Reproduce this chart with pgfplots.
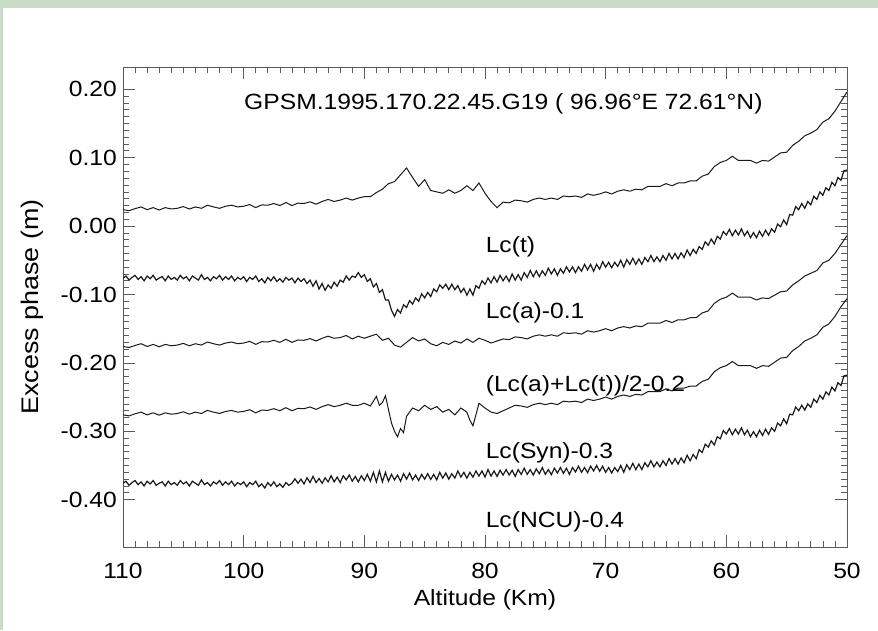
\documentclass[border=0pt]{standalone}
\usepackage{pgfplots}
\pgfplotsset{compat=1.18}
\usepackage{fontspec}
\setmainfont{Liberation Sans}[FakeStretch=1.12]
\definecolor{frame}{RGB}{200,220,200}
\definecolor{axgray}{RGB}{90,90,90}
\newcommand{\F}{\fontsize{22}{26}\selectfont}
\begin{document}
\F
\begin{tikzpicture}
\begin{axis}[
  width=724pt, height=480pt, scale only axis,
  x dir=reverse, xmin=50, xmax=110, ymin=-0.4692, ymax=0.2326,
  xtick={50,60,70,80,90,100,110},
  xticklabels={50,60,70,80,90,100,110},
  ytick={-0.4,-0.3,-0.2,-0.1,0,0.1,0.2},
  yticklabels={-0.40,-0.30,-0.20,-0.10,0.00,0.10,0.20},
  minor x tick num=9, minor y tick num=9,
  xtick pos=both, ytick pos=both, xticklabel pos=lower, yticklabel pos=left,
  tick align=inside, major tick length=12pt, minor tick length=6pt,
  axis line style={axgray, line width=0.8pt},
  every tick/.style={axgray, line width=0.7pt},
  tick label style={font=\F},
  xticklabel style={anchor=base, yshift=-31pt},
  yticklabel style={anchor=east, inner sep=0pt, xshift=-6pt},
  xlabel={Altitude (Km)}, ylabel={Excess phase (m)},
  every axis x label/.style={at={(axis description cs:0.5,-0.11)}, anchor=center, font=\F},
  every axis y label/.style={at={(axis description cs:-0.125,0.5)}, anchor=center, rotate=90, font=\fontsize{24}{28}\selectfont},
  clip=true,
]
\coordinate (sw) at (rel axis cs:0,0);
% Lc(t)
\addplot[black!90, line width=1pt] table[row sep=\\] {x y\\
110 0.0240\\ 109.5 0.0225\\ 109 0.0255\\ 108.5 0.028\\ 108 0.024\\ 107.5 0.027\\ 107 0.0235\\ 106.5 0.027\\ 106 0.025\\ 105.5 0.026\\
105 0.0285\\ 104.5 0.025\\ 104 0.028\\ 103.5 0.026\\ 103 0.0305\\ 102.5 0.028\\ 102 0.026\\ 101.5 0.029\\ 101 0.0305\\ 100.5 0.028\\
100 0.029\\ 99.5 0.0315\\ 99 0.027\\ 98.5 0.031\\ 98 0.0305\\ 97.5 0.033\\ 97 0.030\\ 96.5 0.0345\\ 96 0.030\\ 95.5 0.0335\\
95 0.033\\ 94.5 0.0355\\ 94 0.032\\ 93.5 0.036\\ 93 0.039\\ 92.5 0.036\\ 92 0.038\\ 91.5 0.041\\ 91 0.038\\ 90.5 0.041\\
90 0.043\\ 89.5 0.043\\ 89 0.049\\ 88.5 0.054\\ 88 0.062\\ 87.5 0.065\\ 87 0.075\\ 86.5 0.085\\ 86 0.071\\ 85.5 0.058\\
85 0.068\\ 84.5 0.052\\ 84 0.050\\ 83.5 0.048\\ 83 0.053\\ 82.5 0.048\\ 82 0.052\\ 81.5 0.059\\ 81 0.052\\ 80.5 0.063\\
80 0.048\\ 79.5 0.036\\ 79 0.027\\ 78.5 0.035\\ 78 0.034\\ 77.5 0.038\\ 77 0.037\\ 76.5 0.035\\ 76 0.039\\ 75.5 0.041\\
75 0.039\\ 74.5 0.041\\ 74 0.039\\ 73.5 0.044\\ 73 0.043\\ 72.5 0.044\\ 72 0.042\\ 71.5 0.047\\ 71 0.045\\ 70.5 0.047\\
70 0.050\\ 69.5 0.047\\ 69 0.051\\ 68.5 0.053\\ 68 0.051\\ 67.5 0.054\\ 67 0.053\\ 66.5 0.058\\ 66 0.058\\ 65.5 0.058\\
65 0.062\\ 64.5 0.059\\ 64 0.063\\ 63.5 0.063\\ 63 0.066\\ 62.5 0.066\\ 62 0.073\\ 61.5 0.076\\ 61 0.087\\ 60.5 0.093\\
60 0.096\\ 59.5 0.102\\ 59 0.096\\ 58.5 0.096\\ 58 0.096\\ 57.5 0.092\\ 57 0.096\\ 56.5 0.095\\ 56 0.101\\ 55.5 0.107\\
55 0.108\\ 54.5 0.118\\ 54 0.124\\ 53.5 0.132\\ 53 0.136\\ 52.5 0.141\\ 52 0.152\\ 51.5 0.157\\ 51 0.168\\ 50.5 0.182\\ 50 0.196\\
};
% Lc(a)-0.1
\addplot[black!90, line width=1.2pt] table[row sep=\\] {x y\\
110 -0.076\\ 109.75 -0.073\\ 109.5 -0.079\\ 109.25 -0.075\\ 109 -0.072\\ 108.75 -0.078\\ 108.5 -0.074\\ 108.25 -0.080\\ 108 -0.073\\ 107.75 -0.077\\
107.5 -0.072\\ 107.25 -0.079\\ 107 -0.076\\ 106.75 -0.074\\ 106.5 -0.080\\ 106.25 -0.073\\ 106 -0.078\\ 105.75 -0.075\\ 105.5 -0.079\\ 105.25 -0.072\\
105 -0.077\\ 104.75 -0.074\\ 104.5 -0.080\\ 104.25 -0.073\\ 104 -0.076\\ 103.75 -0.079\\ 103.5 -0.071\\ 103.25 -0.078\\ 103 -0.075\\ 102.75 -0.080\\
102.5 -0.074\\ 102.25 -0.077\\ 102 -0.072\\ 101.75 -0.079\\ 101.5 -0.074\\ 101.25 -0.078\\ 101 -0.073\\ 100.75 -0.080\\ 100.5 -0.075\\ 100.25 -0.078\\
100 -0.074\\ 99.75 -0.081\\ 99.5 -0.075\\ 99.25 -0.078\\ 99 -0.073\\ 98.75 -0.081\\ 98.5 -0.077\\ 98.25 -0.083\\ 98 -0.075\\ 97.75 -0.080\\
97.5 -0.074\\ 97.25 -0.081\\ 97 -0.077\\ 96.75 -0.082\\ 96.5 -0.075\\ 96.25 -0.079\\ 96 -0.076\\ 95.75 -0.083\\ 95.5 -0.076\\ 95.25 -0.081\\
95 -0.077\\ 94.75 -0.084\\ 94.5 -0.079\\ 94.25 -0.088\\ 94 -0.080\\ 93.75 -0.092\\ 93.5 -0.084\\ 93.25 -0.094\\ 93 -0.086\\ 92.75 -0.091\\
92.5 -0.082\\ 92.25 -0.088\\ 92 -0.079\\ 91.75 -0.082\\ 91.5 -0.073\\ 91.25 -0.079\\ 91 -0.073\\ 90.75 -0.075\\ 90.5 -0.068\\ 90.25 -0.075\\
90 -0.071\\ 89.75 -0.081\\ 89.5 -0.077\\ 89.25 -0.089\\ 89 -0.084\\ 88.75 -0.097\\ 88.5 -0.093\\ 88.25 -0.108\\ 88 -0.108\\ 87.75 -0.123\\
87.5 -0.132\\ 87.25 -0.122\\ 87 -0.127\\ 86.75 -0.115\\ 86.5 -0.119\\ 86.25 -0.109\\ 86 -0.114\\ 85.75 -0.105\\ 85.5 -0.110\\ 85.25 -0.099\\
85 -0.105\\ 84.75 -0.097\\ 84.5 -0.103\\ 84.25 -0.092\\ 84 -0.096\\ 83.75 -0.086\\ 83.5 -0.091\\ 83.25 -0.085\\ 83 -0.093\\ 82.75 -0.085\\
82.5 -0.093\\ 82.25 -0.087\\ 82 -0.097\\ 81.75 -0.091\\ 81.5 -0.101\\ 81.25 -0.092\\ 81 -0.101\\ 80.75 -0.087\\ 80.5 -0.091\\ 80.25 -0.080\\
80 -0.085\\ 79.75 -0.076\\ 79.5 -0.083\\ 79.25 -0.074\\ 79 -0.082\\ 78.75 -0.072\\ 78.5 -0.080\\ 78.25 -0.073\\ 78 -0.081\\ 77.75 -0.070\\
77.5 -0.079\\ 77.25 -0.071\\ 77 -0.079\\ 76.75 -0.068\\ 76.5 -0.075\\ 76.25 -0.065\\ 76 -0.074\\ 75.75 -0.0655\\ 75.5 -0.074\\ 75.25 -0.0655\\
75 -0.072\\ 74.75 -0.0615\\ 74.5 -0.070\\ 74.25 -0.0625\\ 74 -0.072\\ 73.75 -0.0625\\ 73.5 -0.069\\ 73.25 -0.0595\\ 73 -0.067\\ 72.75 -0.0595\\
72.5 -0.068\\ 72.25 -0.0595\\ 72 -0.066\\ 71.75 -0.056\\ 71.5 -0.064\\ 71.25 -0.056\\ 71 -0.066\\ 70.75 -0.056\\ 70.5 -0.063\\ 70.25 -0.052\\
70 -0.060\\ 69.75 -0.053\\ 69.5 -0.061\\ 69.25 -0.053\\ 69 -0.059\\ 68.75 -0.050\\ 68.5 -0.060\\ 68.25 -0.049\\ 68 -0.056\\ 67.75 -0.047\\
67.5 -0.056\\ 67.25 -0.048\\ 67 -0.056\\ 66.75 -0.046\\ 66.5 -0.052\\ 66.25 -0.043\\ 66 -0.052\\ 65.75 -0.045\\ 65.5 -0.052\\ 65.25 -0.043\\
65 -0.050\\ 64.75 -0.040\\ 64.5 -0.048\\ 64.25 -0.040\\ 64 -0.048\\ 63.75 -0.039\\ 63.5 -0.046\\ 63.25 -0.035\\ 63 -0.043\\ 62.75 -0.034\\
62.5 -0.040\\ 62.25 -0.030\\ 62 -0.034\\ 61.75 -0.023\\ 61.5 -0.028\\ 61.25 -0.019\\ 61 -0.026\\ 60.75 -0.015\\ 60.5 -0.019\\ 60.25 -0.008\\
60 -0.013\\ 59.75 -0.005\\ 59.5 -0.014\\ 59.25 -0.006\\ 59 -0.013\\ 58.75 -0.004\\ 58.5 -0.014\\ 58.25 -0.0075\\ 58 -0.017\\ 57.75 -0.0095\\
57.5 -0.017\\ 57.25 -0.0075\\ 57 -0.015\\ 56.75 -0.006\\ 56.5 -0.0135\\ 56.25 -0.004\\ 56 -0.009\\ 55.75 0.003\\ 55.5 -0.001\\ 55.25 0.009\\
55 0.002\\ 54.75 0.017\\ 54.5 0.016\\ 54.25 0.0285\\ 54 0.024\\ 53.75 0.033\\ 53.5 0.026\\ 53.25 0.036\\ 53 0.031\\ 52.75 0.0435\\
52.5 0.039\\ 52.25 0.050\\ 52 0.045\\ 51.75 0.056\\ 51.5 0.052\\ 51.25 0.064\\ 51 0.059\\ 50.75 0.071\\ 50.5 0.067\\ 50.25 0.081\\ 50 0.082\\
};
% (Lc(a)+Lc(t))/2-0.2
\addplot[black!90, line width=1pt] table[row sep=\\] {x y\\
110 -0.176\\ 109.5 -0.1775\\ 109 -0.1745\\ 108.5 -0.172\\ 108 -0.176\\ 107.5 -0.173\\ 107 -0.1765\\ 106.5 -0.173\\ 106 -0.175\\ 105.5 -0.174\\
105 -0.1715\\ 104.5 -0.175\\ 104 -0.172\\ 103.5 -0.174\\ 103 -0.1695\\ 102.5 -0.172\\ 102 -0.174\\ 101.5 -0.171\\ 101 -0.1695\\ 100.5 -0.172\\
100 -0.171\\ 99.5 -0.1685\\ 99 -0.173\\ 98.5 -0.169\\ 98 -0.1695\\ 97.5 -0.167\\ 97 -0.170\\ 96.5 -0.1655\\ 96 -0.170\\ 95.5 -0.1665\\
95 -0.167\\ 94.5 -0.1645\\ 94 -0.168\\ 93.5 -0.164\\ 93 -0.161\\ 92.5 -0.164\\ 92 -0.163\\ 91.5 -0.160\\ 91 -0.165\\ 90.5 -0.161\\
90 -0.164\\ 89.5 -0.161\\ 89 -0.158\\ 88.5 -0.167\\ 88 -0.164\\ 87.5 -0.174\\ 87 -0.177\\ 86.5 -0.170\\ 86 -0.163\\ 85.5 -0.168\\
85 -0.165\\ 84.5 -0.172\\ 84 -0.175\\ 83.5 -0.170\\ 83 -0.173\\ 82.5 -0.168\\ 82 -0.171\\ 81.5 -0.165\\ 81 -0.170\\ 80.5 -0.164\\
80 -0.167\\ 79.5 -0.171\\ 79 -0.168\\ 78.5 -0.165\\ 78 -0.166\\ 77.5 -0.162\\ 77 -0.163\\ 76.5 -0.165\\ 76 -0.161\\ 75.5 -0.159\\
75 -0.161\\ 74.5 -0.159\\ 74 -0.161\\ 73.5 -0.156\\ 73 -0.157\\ 72.5 -0.156\\ 72 -0.158\\ 71.5 -0.153\\ 71 -0.155\\ 70.5 -0.153\\
70 -0.150\\ 69.5 -0.153\\ 69 -0.149\\ 68.5 -0.147\\ 68 -0.149\\ 67.5 -0.146\\ 67 -0.147\\ 66.5 -0.142\\ 66 -0.142\\ 65.5 -0.142\\
65 -0.138\\ 64.5 -0.141\\ 64 -0.137\\ 63.5 -0.137\\ 63 -0.134\\ 62.5 -0.134\\ 62 -0.127\\ 61.5 -0.124\\ 61 -0.113\\ 60.5 -0.107\\
60 -0.104\\ 59.5 -0.098\\ 59 -0.104\\ 58.5 -0.104\\ 58 -0.104\\ 57.5 -0.108\\ 57 -0.105\\ 56.5 -0.106\\ 56 -0.101\\ 55.5 -0.096\\
55 -0.095\\ 54.5 -0.086\\ 54 -0.080\\ 53.5 -0.073\\ 53 -0.069\\ 52.5 -0.065\\ 52 -0.054\\ 51.5 -0.050\\ 51 -0.040\\ 50.5 -0.027\\ 50 -0.014\\
};
% Lc(Syn)-0.3
\addplot[black!90, line width=1pt] table[row sep=\\] {x y\\
110 -0.276\\ 109.5 -0.2775\\ 109 -0.2745\\ 108.5 -0.272\\ 108 -0.276\\ 107.5 -0.273\\ 107 -0.2765\\ 106.5 -0.273\\ 106 -0.275\\ 105.5 -0.274\\
105 -0.2715\\ 104.5 -0.275\\ 104 -0.272\\ 103.5 -0.274\\ 103 -0.2695\\ 102.5 -0.272\\ 102 -0.274\\ 101.5 -0.271\\ 101 -0.2695\\ 100.5 -0.272\\
100 -0.271\\ 99.5 -0.2685\\ 99 -0.273\\ 98.5 -0.269\\ 98 -0.2695\\ 97.5 -0.267\\ 97 -0.270\\ 96.5 -0.2655\\ 96 -0.270\\ 95.5 -0.2665\\
95 -0.267\\ 94.5 -0.2645\\ 94 -0.268\\ 93.5 -0.264\\ 93 -0.261\\ 92.5 -0.264\\ 92 -0.262\\ 91.5 -0.259\\ 91 -0.262\\ 90.5 -0.262\\
90 -0.259\\ 89.5 -0.263\\ 89.25 -0.256\\ 89 -0.249\\ 88.75 -0.262\\ 88.5 -0.258\\ 88.25 -0.248\\ 88 -0.268\\ 87.75 -0.288\\ 87.5 -0.300\\
87.25 -0.308\\ 87 -0.296\\ 86.75 -0.302\\ 86.5 -0.278\\ 86 -0.266\\ 85.5 -0.270\\ 85 -0.262\\ 84.5 -0.268\\ 84 -0.264\\ 83.5 -0.272\\
83 -0.268\\ 82.5 -0.276\\ 82 -0.266\\ 81.5 -0.272\\ 81.25 -0.284\\ 81 -0.292\\ 80.75 -0.276\\ 80.5 -0.259\\ 80 -0.266\\ 79.5 -0.272\\
79 -0.274\\ 78.5 -0.270\\ 78 -0.266\\ 77.5 -0.262\\ 77 -0.263\\ 76.5 -0.265\\ 76 -0.261\\ 75.5 -0.259\\ 75 -0.261\\ 74.5 -0.259\\
74 -0.261\\ 73.5 -0.256\\ 73 -0.257\\ 72.5 -0.256\\ 72 -0.258\\ 71.5 -0.253\\ 71 -0.255\\ 70.5 -0.253\\ 70 -0.250\\ 69.5 -0.253\\
69 -0.249\\ 68.5 -0.247\\ 68 -0.249\\ 67.5 -0.246\\ 67 -0.247\\ 66.5 -0.242\\ 66 -0.242\\ 65.5 -0.242\\ 65 -0.238\\ 64.5 -0.241\\
64 -0.237\\ 63.5 -0.237\\ 63 -0.234\\ 62.5 -0.234\\ 62 -0.227\\ 61.5 -0.224\\ 61 -0.213\\ 60.5 -0.207\\ 60 -0.204\\ 59.5 -0.198\\
59 -0.204\\ 58.5 -0.204\\ 58 -0.204\\ 57.5 -0.208\\ 57 -0.204\\ 56.5 -0.205\\ 56 -0.199\\ 55.5 -0.193\\ 55 -0.192\\ 54.5 -0.182\\
54 -0.176\\ 53.5 -0.168\\ 53 -0.164\\ 52.5 -0.159\\ 52 -0.148\\ 51.5 -0.143\\ 51 -0.132\\ 50.5 -0.118\\ 50 -0.106\\
};
% Lc(NCU)-0.4
\addplot[black!90, line width=1.2pt] table[row sep=\\] {x y\\
110 -0.376\\ 109.75 -0.373\\ 109.5 -0.379\\ 109.25 -0.375\\ 109 -0.372\\ 108.75 -0.378\\ 108.5 -0.374\\ 108.25 -0.380\\ 108 -0.373\\ 107.75 -0.377\\
107.5 -0.372\\ 107.25 -0.379\\ 107 -0.376\\ 106.75 -0.374\\ 106.5 -0.380\\ 106.25 -0.373\\ 106 -0.378\\ 105.75 -0.375\\ 105.5 -0.379\\ 105.25 -0.372\\
105 -0.377\\ 104.75 -0.374\\ 104.5 -0.380\\ 104.25 -0.373\\ 104 -0.376\\ 103.75 -0.379\\ 103.5 -0.371\\ 103.25 -0.378\\ 103 -0.375\\ 102.75 -0.380\\
102.5 -0.374\\ 102.25 -0.377\\ 102 -0.372\\ 101.75 -0.379\\ 101.5 -0.374\\ 101.25 -0.378\\ 101 -0.373\\ 100.75 -0.380\\ 100.5 -0.375\\ 100.25 -0.378\\
100 -0.374\\ 99.75 -0.381\\ 99.5 -0.375\\ 99.25 -0.378\\ 99 -0.373\\ 98.75 -0.381\\ 98.5 -0.377\\ 98.25 -0.383\\ 98 -0.375\\ 97.75 -0.380\\
97.5 -0.374\\ 97.25 -0.381\\ 97 -0.377\\ 96.75 -0.382\\ 96.5 -0.375\\ 96.25 -0.379\\ 96 -0.376\\ 95.75 -0.3695\\ 95.5 -0.376\\ 95.25 -0.370\\
95 -0.377\\ 94.75 -0.368\\ 94.5 -0.375\\ 94.25 -0.366\\ 94 -0.375\\ 93.75 -0.369\\ 93.5 -0.376\\ 93.25 -0.368\\ 93 -0.374\\ 92.75 -0.365\\
92.5 -0.374\\ 92.25 -0.367\\ 92 -0.375\\ 91.75 -0.365\\ 91.5 -0.371\\ 91.25 -0.364\\ 91 -0.373\\ 90.75 -0.366\\ 90.5 -0.374\\ 90.25 -0.365\\
90 -0.372\\ 89.75 -0.363\\ 89.5 -0.373\\ 89.25 -0.360\\ 89 -0.374\\ 88.75 -0.358\\ 88.5 -0.374\\ 88.25 -0.360\\ 88 -0.373\\ 87.75 -0.363\\
87.5 -0.371\\ 87.25 -0.364\\ 87 -0.373\\ 86.75 -0.362\\ 86.5 -0.370\\ 86.25 -0.361\\ 86 -0.371\\ 85.75 -0.364\\ 85.5 -0.372\\ 85.25 -0.363\\
85 -0.370\\ 84.75 -0.362\\ 84.5 -0.3705\\ 84.25 -0.363\\ 84 -0.371\\ 83.75 -0.360\\ 83.5 -0.3685\\ 83.25 -0.361\\ 83 -0.370\\ 82.75 -0.362\\
82.5 -0.3685\\ 82.25 -0.358\\ 82 -0.367\\ 81.75 -0.360\\ 81.5 -0.3685\\ 81.25 -0.360\\ 81 -0.367\\ 80.75 -0.358\\ 80.5 -0.3655\\ 80.25 -0.358\\
80 -0.367\\ 79.75 -0.356\\ 79.5 -0.3656\\ 79.25 -0.358\\ 79 -0.366\\ 78.75 -0.357\\ 78.5 -0.364\\ 78.25 -0.356\\ 78 -0.364\\ 77.75 -0.357\\
77.5 -0.366\\ 77.25 -0.356\\ 77 -0.363\\ 76.75 -0.354\\ 76.5 -0.363\\ 76.25 -0.356\\ 76 -0.364\\ 75.75 -0.355\\ 75.5 -0.362\\ 75.25 -0.353\\
75 -0.363\\ 74.75 -0.356\\ 74.5 -0.3635\\ 74.25 -0.354\\ 74 -0.361\\ 73.75 -0.353\\ 73.5 -0.3615\\ 73.25 -0.354\\ 73 -0.363\\ 72.75 -0.353\\
72.5 -0.3595\\ 72.25 -0.351\\ 72 -0.360\\ 71.75 -0.353\\ 71.5 -0.3605\\ 71.25 -0.351\\ 71 -0.358\\ 70.75 -0.350\\ 70.5 -0.3585\\ 70.25 -0.351\\
70 -0.360\\ 69.75 -0.353\\ 69.5 -0.361\\ 69.25 -0.353\\ 69 -0.359\\ 68.75 -0.350\\ 68.5 -0.360\\ 68.25 -0.349\\ 68 -0.356\\ 67.75 -0.347\\
67.5 -0.356\\ 67.25 -0.348\\ 67 -0.356\\ 66.75 -0.346\\ 66.5 -0.352\\ 66.25 -0.343\\ 66 -0.352\\ 65.75 -0.345\\ 65.5 -0.352\\ 65.25 -0.343\\
65 -0.350\\ 64.75 -0.340\\ 64.5 -0.348\\ 64.25 -0.340\\ 64 -0.348\\ 63.75 -0.339\\ 63.5 -0.346\\ 63.25 -0.335\\ 63 -0.343\\ 62.75 -0.334\\
62.5 -0.340\\ 62.25 -0.327\\ 62 -0.331\\ 61.75 -0.319\\ 61.5 -0.323\\ 61.25 -0.314\\ 61 -0.320\\ 60.75 -0.308\\ 60.5 -0.311\\ 60.25 -0.299\\
60 -0.304\\ 59.75 -0.296\\ 59.5 -0.305\\ 59.25 -0.297\\ 59 -0.304\\ 58.75 -0.295\\ 58.5 -0.305\\ 58.25 -0.2985\\ 58 -0.308\\ 57.75 -0.3005\\
57.5 -0.308\\ 57.25 -0.2985\\ 57 -0.306\\ 56.75 -0.297\\ 56.5 -0.3045\\ 56.25 -0.295\\ 56 -0.300\\ 55.75 -0.288\\ 55.5 -0.292\\ 55.25 -0.282\\
55 -0.289\\ 54.75 -0.275\\ 54.5 -0.276\\ 54.25 -0.2645\\ 54 -0.270\\ 53.75 -0.262\\ 53.5 -0.269\\ 53.25 -0.260\\ 53 -0.265\\ 52.75 -0.253\\
52.5 -0.258\\ 52.25 -0.2475\\ 52 -0.253\\ 51.75 -0.2425\\ 51.5 -0.247\\ 51.25 -0.2355\\ 51 -0.241\\ 50.75 -0.229\\ 50.5 -0.233\\ 50.25 -0.219\\ 50 -0.218\\
};
\node[anchor=base west, inner sep=0pt, font=\F] at (axis cs:99.97,0.170) {GPSM.1995.170.22.45.G19 ( 96.96°E 72.61°N)};
\node[anchor=base west, inner sep=0pt, font=\F] at (axis cs:79.95,-0.0393) {Lc(t)};
\node[anchor=base west, inner sep=0pt, font=\F] at (axis cs:79.95,-0.1358) {Lc(a)-0.1};
\node[anchor=base west, inner sep=0pt, font=\F] at (axis cs:79.95,-0.242) {(Lc(a)+Lc(t))/2-0.2};
\node[anchor=base west, inner sep=0pt, font=\F] at (axis cs:79.95,-0.3395) {Lc(Syn)-0.3};
\node[anchor=base west, inner sep=0pt, font=\F] at (axis cs:79.95,-0.441) {Lc(NCU)-0.4};
\end{axis}
\pgfresetboundingbox
\path[use as bounding box] (sw) ++(-123pt,-83pt) rectangle ++(878pt,630pt);
\fill[frame] (sw) ++(-123pt,538.5pt) rectangle ++(878pt,9pt);
\fill[frame] (sw) ++(-123pt,-83pt) rectangle ++(2.7pt,630pt);
\end{tikzpicture}
\end{document}
